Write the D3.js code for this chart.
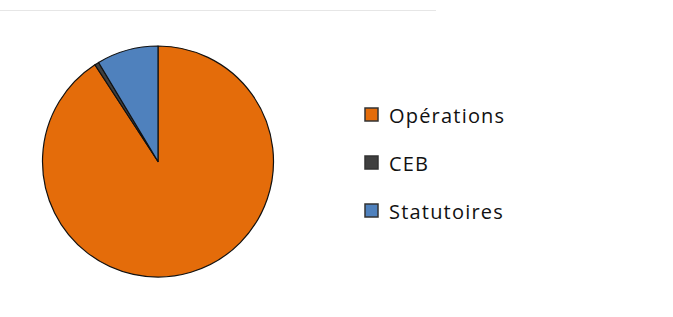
<!DOCTYPE html>
<html>
<head>
<meta charset="utf-8">
<script src="https://cdn.jsdelivr.net/npm/d3@7"></script>
<style>
	body { margin: 0; background: #fff; }
	svg { display: block; }
</style>
</head>
<body>
<div id="chart"></div>
<script>
"use strict"

var categories = ["Opérations", "CEB", "Statutoires"];
var values = [90.8, 0.6, 8.6];
var colors = ["#E46C0A", "#3F3F3F", "#4F81BD"];

var width = 673, height = 317;
var cx = 158, cy = 161.5, radius = 115.5;

var svg = d3.select("#chart")
	.append("svg")
	.attr("width", width)
	.attr("height", height)
	;

// faint frame line across the top
svg.append("line")
	.attr("x1", 0)
	.attr("x2", 436)
	.attr("y1", 10.5)
	.attr("y2", 10.5)
	.attr("stroke", "#e6e6e6")
	.attr("stroke-width", 1)
	;

var pie = d3.pie().sort(null).value(function(d) { return d; });
var arc = d3.arc().innerRadius(0).outerRadius(radius);
var color = d3.scaleOrdinal().domain(categories).range(colors);

svg.append("g")
	.attr("transform", "translate(" + cx + "," + cy + ")")
	.selectAll("path")
	.data(pie(values))
	.join("path")
	.attr("d", arc)
	.attr("fill", function(d, i) { return color(categories[i]); })
	.attr("stroke", "#111")
	.attr("stroke-width", 1.2)
	.attr("stroke-linejoin", "round")
	;

// legend
var legendY = d3.scalePoint().domain(categories).range([115, 211]);

var legend = svg.append("g")
	.selectAll("g")
	.data(categories)
	.join("g")
	.attr("transform", function(d) { return "translate(364," + legendY(d) + ")"; })
	;

legend.append("rect")
	.attr("x", 1)
	.attr("y", -7)
	.attr("width", 13)
	.attr("height", 13)
	.attr("fill", function(d) { return color(d); })
	.attr("stroke", "#333")
	.attr("stroke-width", 1.5)
	;

legend.append("text")
	.attr("x", 25)
	.attr("y", 7.5)
	.attr("font-family", "'Open Sans', sans-serif")
	.attr("font-size", "20px")
	.attr("letter-spacing", "1.2px")
	.attr("fill", "#111")
	.text(function(d) { return d; })
	;
</script>
</body>
</html>
